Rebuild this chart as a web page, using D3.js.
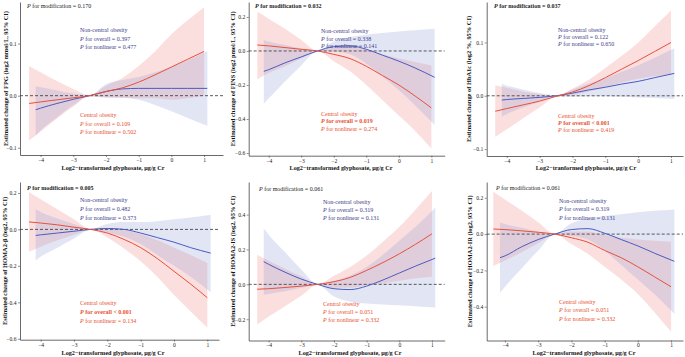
<!DOCTYPE html>
<html>
<head>
<meta charset='utf-8'>
<title>Glyphosate RCS</title>
<script src='https://cdn.jsdelivr.net/npm/d3@7'></script>
<style>
  body { margin: 0; background: #fff; }
  text { font-family: 'Liberation Serif', 'Times New Roman', serif; }
</style>
</head>
<body>
<svg width='685' height='357'></svg>
<script>
// x grid of the fitted curves (log2 glyphosate)
const xCentral = [-4.35, -4, -3.5, -3, -2.5, -2, -1.5, -1, -0.5, 0, 0.5, 1]
const xNonCentral = [-4.15, -4, -3.5, -3, -2.5, -2, -1.5, -1, -0.5, 0, 0.5, 1.1]

// FPG
const fpgC = [-0.015, -0.012, -0.008, -0.004, 0, 0.008, 0.015, 0.026, 0.040, 0.055, 0.070, 0.085]
const fpgCLo = [-0.086, -0.069, -0.044, -0.021, -0.001, -0.003, -0.004, -0.005, -0.005, -0.008, -0.005, 0.0]
const fpgCHi = [0.057, 0.045, 0.028, 0.013, 0.001, 0.019, 0.034, 0.057, 0.085, 0.118, 0.145, 0.170]
const fpgN = [-0.027, -0.024, -0.015, -0.007, 0, 0.008, 0.013, 0.014, 0.014, 0.014, 0.014, 0.014]
const fpgNLo = [-0.077, -0.067, -0.042, -0.018, -0.001, -0.004, -0.004, -0.008, -0.018, -0.030, -0.043, -0.058]
const fpgNHi = [0.018, 0.016, 0.010, 0.004, 0.001, 0.022, 0.030, 0.036, 0.045, 0.055, 0.068, 0.086]

// FINS
const finsC = [0.035, 0.030, 0.020, 0.010, 0, -0.020, -0.045, -0.090, -0.145, -0.200, -0.265, -0.335]
const finsCLo = [-0.167, -0.13, -0.09, -0.045, -0.002, -0.06, -0.12, -0.2, -0.29, -0.38, -0.47, -0.573]
const finsCHi = [0.23, 0.19, 0.13, 0.065, 0.002, 0.02, 0.025, 0.01, -0.02, -0.045, -0.065, -0.086]
const finsN = [-0.12, -0.11, -0.07, -0.035, 0, 0.025, 0.03, 0.01, -0.025, -0.06, -0.10, -0.155]
const finsNLo = [-0.31, -0.28, -0.18, -0.085, -0.002, -0.005, -0.02, -0.075, -0.15, -0.23, -0.32, -0.435]
const finsNHi = [0.065, 0.055, 0.035, 0.015, 0.002, 0.055, 0.08, 0.095, 0.105, 0.115, 0.122, 0.13]

// HbA1c
const hbaC = [-0.029, -0.024, -0.017, -0.010, -0.001, 0.007, 0.019, 0.034, 0.050, 0.066, 0.083, 0.100]
const hbaCLo = [-0.077, -0.063, -0.042, -0.022, -0.002, 0.001, 0.008, 0.016, 0.025, 0.032, 0.037, 0.040]
const hbaCHi = [0.02, 0.015, 0.008, 0.003, 0.0, 0.013, 0.03, 0.052, 0.075, 0.10, 0.13, 0.16]
const hbaN = [-0.008, -0.007, -0.005, -0.003, 0, 0.005, 0.011, 0.016, 0.022, 0.027, 0.034, 0.042]
const hbaNLo = [-0.039, -0.034, -0.022, -0.011, -0.001, -0.002, -0.001, -0.001, -0.002, -0.003, -0.004, -0.006]
const hbaNHi = [0.022, 0.019, 0.012, 0.005, 0.001, 0.012, 0.023, 0.033, 0.045, 0.057, 0.071, 0.089]

// HOMA2-β
const betaC = [0.041, 0.035, 0.025, 0.012, 0, -0.02, -0.055, -0.10, -0.16, -0.23, -0.30, -0.375]
const betaCLo = [-0.122, -0.095, -0.06, -0.03, -0.002, -0.045, -0.105, -0.175, -0.26, -0.36, -0.45, -0.54]
const betaCHi = [0.205, 0.165, 0.11, 0.055, 0.002, 0.005, -0.005, -0.025, -0.06, -0.10, -0.14, -0.184]
const betaN = [-0.033, -0.03, -0.02, -0.01, 0, 0.005, 0.0, -0.02, -0.045, -0.07, -0.10, -0.13]
const betaNLo = [-0.17, -0.15, -0.10, -0.05, -0.002, -0.02, -0.04, -0.08, -0.14, -0.2, -0.26, -0.345]
const betaNHi = [0.11, 0.095, 0.06, 0.03, 0.002, 0.03, 0.04, 0.04, 0.045, 0.055, 0.065, 0.08]

// HOMA2-IS
const isC = [-0.028, -0.025, -0.018, -0.01, 0, 0.015, 0.04, 0.08, 0.125, 0.175, 0.23, 0.29]
const isCLo = [-0.23, -0.185, -0.125, -0.065, -0.002, -0.02, -0.02, -0.005, 0.005, 0.02, 0.035, 0.044]
const isCHi = [0.17, 0.135, 0.09, 0.045, 0.002, 0.05, 0.1, 0.165, 0.245, 0.33, 0.43, 0.535]
const isN = [0.13, 0.115, 0.07, 0.03, 0, -0.025, -0.03, -0.01, 0.025, 0.065, 0.105, 0.15]
const isNLo = [-0.06, -0.055, -0.04, -0.02, -0.002, -0.07, -0.1, -0.11, -0.115, -0.12, -0.125, -0.133]
const isNHi = [0.32, 0.285, 0.185, 0.085, 0.002, 0.02, 0.05, 0.1, 0.17, 0.25, 0.33, 0.44]

// HOMA2-IR
const irC = [0.028, 0.025, 0.018, 0.01, 0, -0.02, -0.045, -0.09, -0.13, -0.18, -0.235, -0.29]
const irCLo = [-0.176, -0.145, -0.1, -0.05, -0.002, -0.055, -0.11, -0.18, -0.25, -0.33, -0.43, -0.538]
const irCHi = [0.233, 0.19, 0.13, 0.065, 0.002, 0.015, 0.015, -0.005, -0.02, -0.03, -0.037, -0.042]
const irN = [-0.13, -0.12, -0.07, -0.03, 0, 0.025, 0.03, 0.005, -0.03, -0.065, -0.105, -0.15]
const irNLo = [-0.323, -0.29, -0.19, -0.09, -0.002, -0.01, -0.03, -0.09, -0.17, -0.25, -0.33, -0.44]
const irNHi = [0.064, 0.055, 0.035, 0.015, 0.002, 0.06, 0.085, 0.1, 0.11, 0.12, 0.128, 0.136]

// texts
const outcomes = ['FPG (log2 mmol/L, 95% CI)', 'FINS (log2 pmol/L, 95% CI)', 'HbA1c (log2 %, 95% CI)',
  'HOMA2-β (log2, 95% CI)', 'HOMA2-IS (log2, 95% CI)', 'HOMA2-IR (log2, 95% CI)']
const xTitles = ['Log2−transformed  glyphosate, μg/g Cr', 'Log2−transformed  glyphosate, μg/g Cr',
  'Log2−tranformed  glyphosate, μg/g Cr', 'Log2−transformed  glyphosate, μg/g Cr',
  'Log2−transformed  glyphosate, μg/g Cr', 'Log2−transformed  glyphosate, μg/g Cr']
const pModification = ['= 0.170', '= 0.032', '= 0.037', '= 0.005', '= 0.061', '= 0.061']
const pOverallN = ['= 0.397', '= 0.338', '= 0.122', '= 0.482', '= 0.319', '= 0.319']
const pNonlinN = ['= 0.477', '= 0.141', '= 0.650', '= 0.373', '= 0.131', '= 0.131']
const pOverallC = ['= 0.109', '= 0.019', '< 0.001', '< 0.001', '= 0.051', '= 0.051']
const pNonlinC = ['= 0.502', '= 0.274', '= 0.419', '= 0.134', '= 0.332', '= 0.332']
const xTicks = [-4, -3, -2, -1, 0, 1]
const yTicks = [[-0.1, 0, 0.1], [-0.6, -0.4, -0.2, 0, 0.2], [-0.1, 0, 0.1],
  [-0.6, -0.4, -0.2, 0, 0.2], [-0.2, 0, 0.2, 0.4], [-0.4, -0.2, 0, 0.2]]

const seriesData = [
  [fpgC, fpgCLo, fpgCHi, fpgN, fpgNLo, fpgNHi],
  [finsC, finsCLo, finsCHi, finsN, finsNLo, finsNHi],
  [hbaC, hbaCLo, hbaCHi, hbaN, hbaNLo, hbaNHi],
  [betaC, betaCLo, betaCHi, betaN, betaNLo, betaNHi],
  [isC, isCLo, isCHi, isN, isNLo, isNHi],
  [irC, irCLo, irCHi, irN, irNLo, irNHi]
]

// layout of each panel (pixel box, axis domains, label spots)
const layout = [
  { box: [20, 223, 2, 155], xd: [-4.63, 1.58], yd: [-0.114, 0.18], ylab: -15, xlab: [113, 170],
    mod: [27, 8], nc: [80, 32], ce: [80, 117], gap: 8.6 },
  { box: [248.7, 444.7, 2, 155.7], xd: [-4.615, 1.41], yd: [-0.616, 0.288], ylab: -16, xlab: [341, 170],
    mod: [255, 8], nc: [321, 33], ce: [321, 115.5], gap: 7.6 },
  { box: [486.7, 683, 2, 156], xd: [-4.61, 1.365], yd: [-0.113, 0.176], ylab: -18.5, xlab: [586, 170],
    mod: [494, 8], nc: [558, 32], ce: [558, 118], gap: 7.2 },
  { box: [20, 219, 182, 339.7], xd: [-4.62, 1.35], yd: [-0.605, 0.26], ylab: -16, xlab: [113, 355],
    mod: [27, 190], nc: [80, 202], ce: [80, 305], gap: 8.8 },
  { box: [248.7, 444.7, 182, 340.5], xd: [-4.61, 1.39], yd: [-0.322, 0.587], ylab: -16, xlab: [350, 355],
    mod: [259, 191], nc: [323, 204], ce: [323, 306], gap: 8 },
  { box: [486.7, 683, 182, 340.5], xd: [-4.55, 1.36], yd: [-0.586, 0.287], ylab: -17, xlab: [584, 355],
    mod: [496, 190], nc: [559, 203], ce: [559, 304], gap: 8.4 }
]

const redLine = '#e8503a', redFill = '#f08080'
const blueLine = '#4b5bbf', blueFill = '#8c96d2'
const navyText = '#3c3c8a', redText = '#e8502f'

const svg = d3.select('svg')

function pText(g, x, y, rest, color, bold) {
  const t = g.append('text').attr('x', x).attr('y', y)
    .attr('font-size', 6).attr('fill', color)
    .attr('font-weight', bold ? 'bold' : 'normal')
  t.append('tspan').attr('font-style', 'italic').text('P')
  t.append('tspan').text(' ' + rest)
}

layout.forEach((L, i) => {
  const [left, right, top, bottom] = L.box
  const g = svg.append('g')
  const x = d3.scaleLinear(L.xd, [left, right])
  const y = d3.scaleLinear(L.yd, [bottom, top])
  const [cFit, cLo, cHi, nFit, nLo, nHi] = seriesData[i]

  const central = xCentral.map((v, k) => ({ x: v, fit: cFit[k], lo: cLo[k], hi: cHi[k] }))
  const nonCentral = xNonCentral.map((v, k) => ({ x: v, fit: nFit[k], lo: nLo[k], hi: nHi[k] }))

  const area = d3.area().curve(d3.curveMonotoneX)
    .x(d => x(d.x)).y0(d => y(d.lo)).y1(d => y(d.hi))
  const line = d3.line().curve(d3.curveMonotoneX)
    .x(d => x(d.x)).y(d => y(d.fit))

  g.append('path').datum(central).attr('d', area).attr('fill', redFill).attr('fill-opacity', 0.25)
  g.append('path').datum(nonCentral).attr('d', area).attr('fill', blueFill).attr('fill-opacity', 0.25)

  // reference line at 0
  g.append('line').attr('x1', left).attr('x2', right).attr('y1', y(0)).attr('y2', y(0))
    .attr('stroke', '#333').attr('stroke-width', 0.8).attr('stroke-dasharray', '3,2')

  g.append('path').datum(nonCentral).attr('d', line).attr('fill', 'none')
    .attr('stroke', blueLine).attr('stroke-width', 1)
  g.append('path').datum(central).attr('d', line).attr('fill', 'none')
    .attr('stroke', redLine).attr('stroke-width', 1)

  // axes
  const xAxis = d3.axisBottom(x).tickValues(xTicks).tickFormat(d3.format('d')).tickSize(2).tickPadding(1).tickSizeOuter(0)
  const yAxis = d3.axisLeft(y).tickValues(yTicks[i]).tickFormat(d3.format('.1f')).tickSize(2).tickPadding(1.5).tickSizeOuter(0)
  const gx = g.append('g').attr('transform', `translate(0,${bottom})`).call(xAxis)
  const gy = g.append('g').attr('transform', `translate(${left},0)`).call(yAxis)
  ;[gx, gy].forEach(a => {
    a.select('.domain').attr('stroke', '#444').attr('stroke-width', 0.8)
    a.selectAll('.tick line').attr('stroke', '#444').attr('stroke-width', 0.6)
    a.selectAll('.tick text').attr('font-size', 5.6).attr('fill', '#222')
      .attr('font-family', "'Liberation Serif', serif")
  })

  // titles
  g.append('text').attr('x', L.xlab[0]).attr('y', L.xlab[1]).attr('text-anchor', 'middle')
    .attr('font-size', 6.2).attr('font-weight', 'bold').attr('fill', '#111').text(xTitles[i])
  g.append('text').attr('transform', `translate(${left + L.ylab},${(top + bottom) / 2}) rotate(-90)`)
    .attr('text-anchor', 'middle').attr('dominant-baseline', 'central')
    .attr('font-size', 6.4).attr('font-weight', 'bold').attr('fill', '#111')
    .text('Estimated change of ' + outcomes[i])

  // annotations
  const modBold = [false, true, true, true, false, false][i]
  pText(g, L.mod[0], L.mod[1], 'for modification ' + pModification[i], '#222', modBold)

  g.append('text').attr('x', L.nc[0]).attr('y', L.nc[1]).attr('font-size', 6)
    .attr('fill', navyText).text('Non-central obesity')
  pText(g, L.nc[0], L.nc[1] + L.gap, 'for overall ' + pOverallN[i], navyText, false)
  pText(g, L.nc[0], L.nc[1] + 2 * L.gap, 'for nonlinear ' + pNonlinN[i], navyText, false)

  const ceBold = [false, true, true, true, false, false][i]
  g.append('text').attr('x', L.ce[0]).attr('y', L.ce[1]).attr('font-size', 6)
    .attr('fill', redText).text('Central obesity')
  pText(g, L.ce[0], L.ce[1] + L.gap, 'for overall ' + pOverallC[i], redText, ceBold)
  pText(g, L.ce[0], L.ce[1] + 2 * L.gap, 'for nonlinear ' + pNonlinC[i], redText, false)
})
</script>
</body>
</html>
